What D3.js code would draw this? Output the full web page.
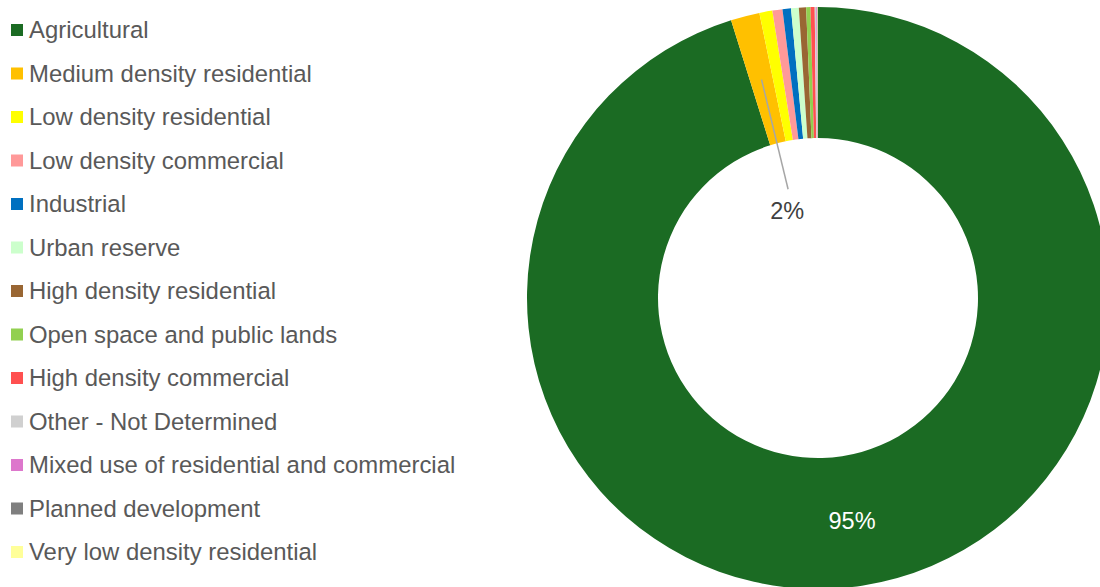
<!DOCTYPE html>
<html>
<head>
<meta charset="utf-8">
<script src="https://cdn.jsdelivr.net/npm/d3@7"></script>
<style>
  html, body { margin: 0; padding: 0; background: #fff; }
  svg { display: block; }
</style>
</head>
<body>
<svg id="chart" width="1100" height="587"></svg>
<script>
// Land use categories, share of total area (%), and slice colours
const categories = [
  "Agricultural",
  "Medium density residential",
  "Low density residential",
  "Low density commercial",
  "Industrial",
  "Urban reserve",
  "High density residential",
  "Open space and public lands",
  "High density commercial",
  "Other - Not Determined",
  "Mixed use of residential and commercial",
  "Planned development",
  "Very low density residential"
];
const shares = [95.2, 1.6, 0.72, 0.56, 0.47, 0.43, 0.40, 0.24, 0.23, 0.08, 0.05, 0.03, 0.02];
const colors = [
  "#1b6b23", "#ffc000", "#ffff00", "#ff9999", "#0070c0", "#ccffcc",
  "#996633", "#92d050", "#ff5050", "#d0d0d0", "#dd77cc", "#7f7f7f", "#ffff99"
];
// Percentage labels shown on the ring (category index -> text)
const labelled = [0, 1];

const svg = d3.select("#chart");
const font = "'Liberation Sans', Arial, sans-serif";

const cx = 818, cy = 298, rOuter = 291, rInner = 160;

const data = categories.map((c, i) => ({ name: c, value: shares[i], color: colors[i] }));
const pie = d3.pie().value(d => d.value).sort(null);
const arcs = pie(data);
const total = d3.sum(shares);

const arc = d3.arc().innerRadius(rInner).outerRadius(rOuter);

const g = svg.append("g").attr("transform", `translate(${cx},${cy})`);

g.selectAll("path.slice")
  .data(arcs)
  .join("path")
  .attr("class", "slice")
  .attr("d", arc)
  .attr("fill", d => d.data.color);

const fmt = v => Math.round(v / total * 100) + "%";

// Large slice: label at its centroid
const big = arcs[labelled[0]];
const bc = arc.centroid(big);
g.append("text")
  .attr("x", bc[0]).attr("y", bc[1])
  .attr("dy", "0.35em")
  .attr("text-anchor", "middle")
  .attr("font-family", font)
  .attr("font-size", 23.5)
  .attr("fill", "#ffffff")
  .text(fmt(big.data.value));

// Small slice: callout pulled into the hole with a leader line
const small = arcs[labelled[1]];
const sc = arc.centroid(small);
const labelAngle = -19.4 * Math.PI / 180, labelR = 93;
const lx = labelR * Math.sin(labelAngle), ly = -labelR * Math.cos(labelAngle);
g.append("line")
  .attr("x1", sc[0]).attr("y1", sc[1])
  .attr("x2", lx + 1).attr("y2", ly - 21)
  .attr("stroke", "#a6a6a6")
  .attr("stroke-width", 1.5);
g.append("text")
  .attr("x", lx).attr("y", ly)
  .attr("dy", "0.35em")
  .attr("text-anchor", "middle")
  .attr("font-family", font)
  .attr("font-size", 23.5)
  .attr("fill", "#404040")
  .text(fmt(small.data.value));

// Legend
const rowY = d3.scalePoint().domain(categories).range([38, 560]);
const legend = svg.append("g");
const items = legend.selectAll("g.item")
  .data(data)
  .join("g")
  .attr("class", "item")
  .attr("transform", d => `translate(0,${rowY(d.name)})`);
items.append("rect")
  .attr("x", 11).attr("y", -14)
  .attr("width", 12).attr("height", 12)
  .attr("fill", d => d.color);
items.append("text")
  .attr("x", 29).attr("y", 0)
  .attr("font-family", font)
  .attr("font-size", 23.9)
  .attr("fill", "#595959")
  .text(d => d.name);
</script>
</body>
</html>
